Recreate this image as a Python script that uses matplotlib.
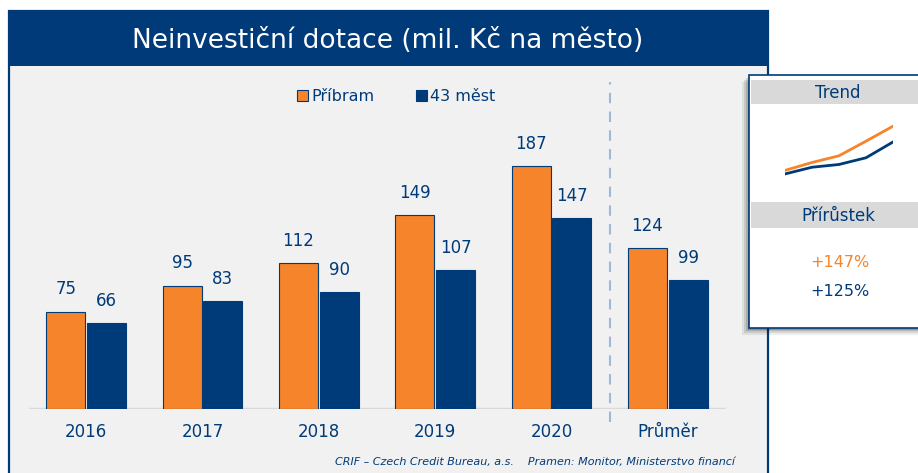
import matplotlib.pyplot as plt
from matplotlib.patches import Rectangle

# data
categories = ['2016', '2017', '2018', '2019', '2020', 'Průměr']
pribram = [75, 95, 112, 149, 187, 124]
mest43 = [66, 83, 90, 107, 147, 99]
growth = ['+147%', '+125%']

ORANGE = '#f5842a'
NAVY = '#003b79'
BG = '#f1f1f1'

W, H = 918, 473
fig = plt.figure(figsize=(W / 100, H / 100), dpi=100)
fig.patch.set_facecolor('white')


def box(x0, y0, x1, y1):
    # pixel box (top-left origin) -> figure fraction [l, b, w, h]
    return [x0 / W, 1 - y1 / H, (x1 - x0) / W, (y1 - y0) / H]


def rect(x0, y0, x1, y1, **kw):
    l, b, w, h = box(x0, y0, x1, y1)
    fig.patches.append(Rectangle((l, b), w, h, transform=fig.transFigure, **kw))


# main panel + title bar
rect(9, 11, 768, 480, facecolor=BG, edgecolor=NAVY, lw=1.6, zorder=-2)
rect(9, 11, 768, 66, facecolor='#003a78', edgecolor='none', zorder=-1)
fig.text(388 / W, 1 - 41 / H, 'Neinvestiční dotace (mil. Kč na město)',
         color='white', fontsize=19, ha='center', va='center')

# bar chart
ax = fig.add_axes(box(29, 71, 726, 409))
ax.set_facecolor('none')
x = list(range(len(categories)))
off, bw = 0.175, 0.335
b1 = ax.bar([i - off for i in x], pribram, bw, color=ORANGE, edgecolor=NAVY,
            lw=0.8, label='Příbram', zorder=3)
b2 = ax.bar([i + off for i in x], mest43, bw, color=NAVY, edgecolor=NAVY,
            lw=0.8, label='43 měst', zorder=3)
for bars in (b1, b2):
    for r in bars:
        ax.text(r.get_x() + r.get_width() / 2, r.get_height() + 10,
                f'{r.get_height():.0f}', ha='center', va='bottom',
                fontsize=12, color=NAVY)
ax.set_xlim(-0.49, 5.5)
ax.set_ylim(0, 260)
ax.axhline(0, color='#d9d9d9', lw=2.5, zorder=2)
ax.axvline(4.5, ymin=-0.038, ymax=0.967, color='#9db8d9', lw=1.5,
           ls=(0, (5, 4)), clip_on=False)
for s in ax.spines.values():
    s.set_visible(False)
ax.set_yticks([])
ax.set_xticks(x)
ax.set_xticklabels(categories, fontsize=12, color=NAVY)
ax.tick_params(axis='x', length=0, pad=10)
ax.legend(loc='center', bbox_to_anchor=(0.527, 0.925), ncol=2, frameon=False,
          fontsize=11.5, labelcolor=NAVY, handlelength=0.7, handleheight=0.7,
          handletextpad=0.2, columnspacing=2.6)

fig.text(735 / W, 1 - 462 / H,
         'CRIF – Czech Credit Bureau, a.s.    Pramen: Monitor, Ministerstvo financí',
         style='italic', fontsize=8, color=NAVY, ha='right', va='center')

# side box with shadow
for d, a in [(7, 0.07), (5, 0.1), (3, 0.14), (1.5, 0.18)]:
    rect(749 - d, 75 + d, 930, 328 + d, facecolor='black', alpha=a,
         edgecolor='none', zorder=4)
rect(749, 75, 930, 328, facecolor='white', edgecolor=NAVY, lw=1.2, zorder=5)
rect(751, 80, 918, 104, facecolor='#d9d9d9', edgecolor='none', zorder=6)
rect(751, 202, 918, 228, facecolor='#d9d9d9', edgecolor='none', zorder=6)
fig.text(838 / W, 1 - 93 / H, 'Trend', fontsize=12, color=NAVY,
         ha='center', va='center', zorder=7)
fig.text(838 / W, 1 - 216 / H, 'Přírůstek', fontsize=12, color=NAVY,
         ha='center', va='center', zorder=7)
fig.text(840 / W, 1 - 262 / H, growth[0], fontsize=11.5, color=ORANGE,
         ha='center', va='center', zorder=7)
fig.text(840 / W, 1 - 292 / H, growth[1], fontsize=11.5, color=NAVY,
         ha='center', va='center', zorder=7)

sp = fig.add_axes(box(785, 125, 893, 200), zorder=8)
sp.set_facecolor('none')
sp.plot(range(5), pribram[:5], color=ORANGE, lw=2)
sp.plot(range(5), mest43[:5], color=NAVY, lw=2)
sp.set_xlim(0, 4)
sp.set_ylim(0, 190)
sp.axis('off')

fig.savefig('out.png', dpi=100)
